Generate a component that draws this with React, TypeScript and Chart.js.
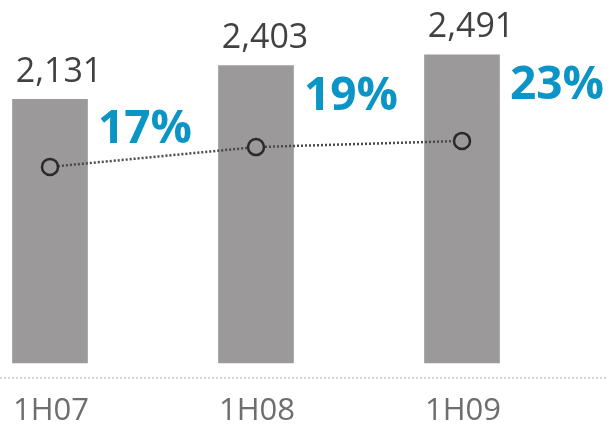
import React, { useEffect, useRef } from "react";
import { Chart, registerables } from "chart.js";

Chart.register(...registerables);

const categories = ["1H07", "1H08", "1H09"];
const barValues = [2131, 2403, 2491];
const barLabels = ["2,131", "2,403", "2,491"];
const lineValues = [1585, 1745, 1795];
const percentLabels = ["17%", "19%", "23%"];

const labelPlugin = {
  id: "customLabels",
  afterDatasetsDraw(chart: any) {
    const { ctx } = chart;
    const xScale = chart.scales.x;
    const yScale = chart.scales.y;
    const baseY = yScale.getPixelForValue(0);
    ctx.save();
    ctx.strokeStyle = "#c9c9c9";
    ctx.lineWidth = 1.5;
    ctx.setLineDash([2, 2]);
    ctx.beginPath();
    ctx.moveTo(0, baseY + 15);
    ctx.lineTo(chart.width, baseY + 15);
    ctx.stroke();
    ctx.setLineDash([]);
    ctx.textAlign = "center";
    ctx.textBaseline = "middle";
    categories.forEach((c, i) => {
      const x = xScale.getPixelForValue(i);
      const top = yScale.getPixelForValue(barValues[i]);
      ctx.fillStyle = "#414141";
      ctx.font = "34px 'Open Sans'";
      ctx.fillText(barLabels[i], x + 9, top - 27);
      ctx.fillStyle = "#0b95c7";
      ctx.font = "bold 46px 'Open Sans'";
      ctx.fillText(percentLabels[i], x + 95, top + 31);
      ctx.fillStyle = "#6e6e6e";
      ctx.font = "31px 'Open Sans'";
      ctx.fillText(c, x + 1, baseY + 48);
    });
    ctx.restore();
  },
};

export default function App() {
  const ref = useRef<HTMLCanvasElement>(null);
  useEffect(() => {
    if (!ref.current) return;
    const chart = new Chart(ref.current, {
      type: "bar",
      data: {
        labels: categories,
        datasets: [
          {
            type: "line",
            data: lineValues,
            borderColor: "#4a4a4a",
            borderWidth: 2.5,
            borderDash: [2, 2],
            pointRadius: 8,
            pointBorderWidth: 2.5,
            pointBorderColor: "#2a2a2a",
            pointBackgroundColor: "#9b9999",
            fill: false,
            clip: false,
            order: 0,
          } as any,
          {
            type: "bar",
            data: barValues,
            backgroundColor: "#9b9999",
            barThickness: 75,
            clip: false,
            order: 1,
          } as any,
        ],
      },
      options: {
        animation: false,
        responsive: true,
        maintainAspectRatio: false,
        layout: { padding: { left: 50, right: 146, top: 0, bottom: 67 } },
        plugins: { legend: { display: false }, tooltip: { enabled: false } },
        scales: {
          x: { display: false, offset: false },
          y: { display: false, min: 0, max: 2849 },
        },
      },
      plugins: [labelPlugin],
    });
    return () => chart.destroy();
  }, []);
  return (
    <div style={{ position: "fixed", left: 0, top: 0, width: 608, height: 430, background: "#fff" }}>
      <canvas ref={ref} />
    </div>
  );
}
